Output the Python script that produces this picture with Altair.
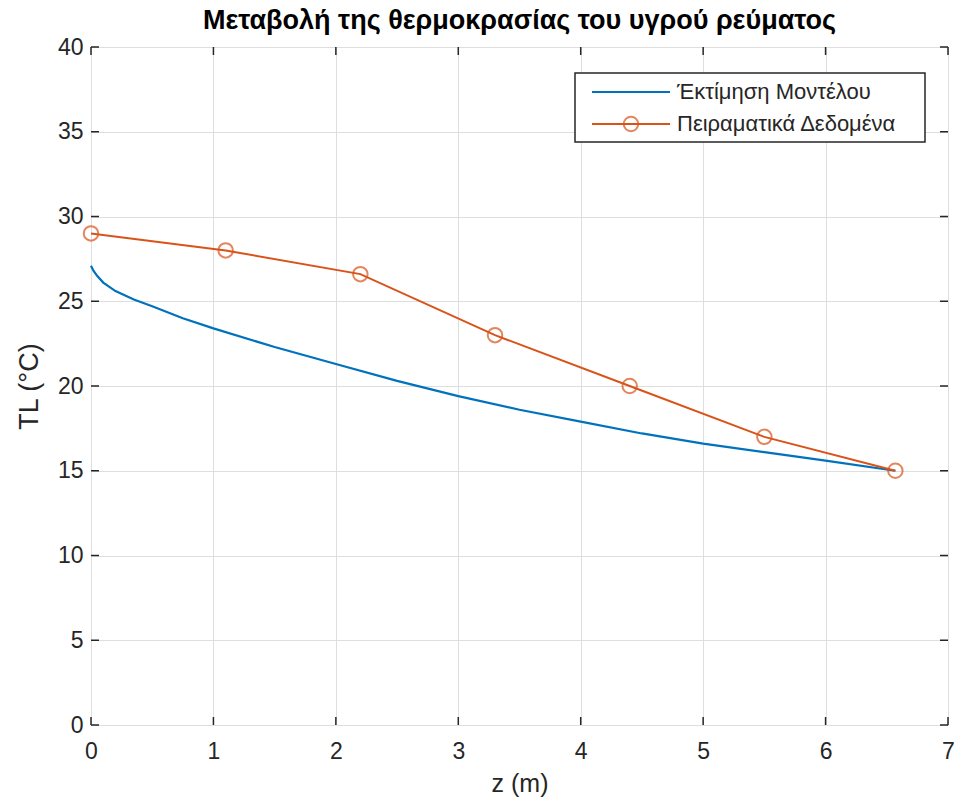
import altair as alt
import pandas as pd

# Data
model_z = [0, 0.02, 0.05, 0.1, 0.2, 0.35, 0.5, 0.75, 1.0, 1.5, 2.0, 2.5, 3.0, 3.5, 4.0, 4.5, 5.0, 5.5, 6.0, 6.57]
model_T = [27.1, 26.8, 26.5, 26.1, 25.6, 25.1, 24.7, 24.0, 23.4, 22.3, 21.3, 20.3, 19.4, 18.6, 17.9, 17.2, 16.6, 16.1, 15.6, 15.0]
exp_z = [0, 1.1, 2.2, 3.3, 4.4, 5.5, 6.57]
exp_T = [29.0, 28.0, 26.6, 23.0, 20.0, 17.0, 15.0]
x_ticks = [0, 1, 2, 3, 4, 5, 6, 7]
y_ticks = [0, 5, 10, 15, 20, 25, 30, 35, 40]
legend_labels = ["Έκτίμηση Μοντέλου", "Πειραματικά Δεδομένα"]
title_text = "Μεταβολή της θερμοκρασίας του υγρού ρεύματος"

BLUE = "#0072BD"
ORANGE = "#D95319"
AX = "#262626"
FONT = "Liberation Sans"
W, H = 857, 678
TL = 8  # tick length

df_model = pd.DataFrame({"z": model_z, "T": model_T})
df_exp = pd.DataFrame({"z": exp_z, "T": exp_T})

xs = alt.Scale(domain=[0, 7], nice=False, zero=False)
ys = alt.Scale(domain=[0, 40], nice=False, zero=False)

xaxis = alt.Axis(values=x_ticks, format="d", title="z (m)", grid=True, ticks=False, domain=False,
                 labelFontSize=23, titleFontSize=25, labelPadding=15, titlePadding=8,
                 labelFlush=False,
                 labelColor=AX, titleColor=AX, titleFontWeight="normal",
                 labelFont=FONT, titleFont=FONT, gridColor="#dedede", gridWidth=1)
yaxis = alt.Axis(values=y_ticks, format="d", title="TL (°C)", grid=True, ticks=False, domain=False,
                 labelFontSize=23, titleFontSize=27, labelPadding=8, titlePadding=14,
                 labelFlush=False,
                 labelColor=AX, titleColor=AX, titleFontWeight="normal",
                 labelFont=FONT, titleFont=FONT, gridColor="#dedede", gridWidth=1)

model = alt.Chart(df_model).mark_line(color=BLUE, strokeWidth=2.2).encode(
    x=alt.X("z:Q", scale=xs, axis=xaxis),
    y=alt.Y("T:Q", scale=ys, axis=yaxis),
)
exp_line = alt.Chart(df_exp).mark_line(color=ORANGE, strokeWidth=2).encode(
    x=alt.X("z:Q", scale=xs), y=alt.Y("T:Q", scale=ys))
exp_pts = alt.Chart(df_exp).mark_point(shape="circle", size=210, filled=False,
                                       color=ORANGE, strokeWidth=2).encode(
    x=alt.X("z:Q", scale=xs), y=alt.Y("T:Q", scale=ys))

# inward ticks on all four sides
dfx = pd.DataFrame({"v": x_ticks})
dfy = pd.DataFrame({"v": y_ticks})
tick_b = alt.Chart(dfx).mark_rule(color=AX, strokeWidth=1.5).encode(
    x=alt.X("v:Q", scale=xs), y=alt.value(H - TL), y2=alt.value(H))
tick_t = alt.Chart(dfx).mark_rule(color=AX, strokeWidth=1.5).encode(
    x=alt.X("v:Q", scale=xs), y=alt.value(0), y2=alt.value(TL))
tick_l = alt.Chart(dfy).mark_rule(color=AX, strokeWidth=1.5).encode(
    y=alt.Y("v:Q", scale=ys), x=alt.value(0), x2=alt.value(TL))
tick_r = alt.Chart(dfy).mark_rule(color=AX, strokeWidth=1.5).encode(
    y=alt.Y("v:Q", scale=ys), x=alt.value(W - TL), x2=alt.value(W))

# manual legend (MATLAB style)
one = alt.Data(values=[{}])
leg_box = alt.Chart(one).mark_rect(fill="white", stroke=AX, strokeWidth=1.5).encode(
    x=alt.value(484), x2=alt.value(834), y=alt.value(26), y2=alt.value(95))
leg_l1 = alt.Chart(one).mark_rule(color=BLUE, strokeWidth=2.2).encode(
    x=alt.value(501), x2=alt.value(579), y=alt.value(45))
leg_l2 = alt.Chart(one).mark_rule(color=ORANGE, strokeWidth=2).encode(
    x=alt.value(501), x2=alt.value(579), y=alt.value(77))
leg_p2 = alt.Chart(one).mark_point(shape="circle", size=210, filled=False, color=ORANGE,
                                   strokeWidth=2).encode(x=alt.value(540), y=alt.value(77))
leg_df = pd.DataFrame({"label": legend_labels, "ypix": [45, 77]})
leg_txt = alt.Chart(leg_df).mark_text(align="left", baseline="middle", font=FONT,
                                      fontSize=22, color=AX).encode(
    x=alt.value(586), y=alt.Y("ypix:Q", scale=None), text="label:N")

chart = alt.layer(
    model, exp_line, exp_pts, tick_b, tick_t, tick_l, tick_r,
    leg_box, leg_l1, leg_l2, leg_p2, leg_txt
).properties(
    width=W, height=H,
    title=alt.TitleParams(title_text, font=FONT, fontSize=27, fontWeight="bold",
                          color="#000000", anchor="middle", offset=1),
    autosize=alt.AutoSizeParams(type="none"),
    padding={"left": 91, "top": 47, "right": 12, "bottom": 82},
).configure_view(
    stroke=AX, strokeWidth=1.5
).configure(background="white")

chart.save("out.html", embed_options={"renderer": "svg", "actions": False})
